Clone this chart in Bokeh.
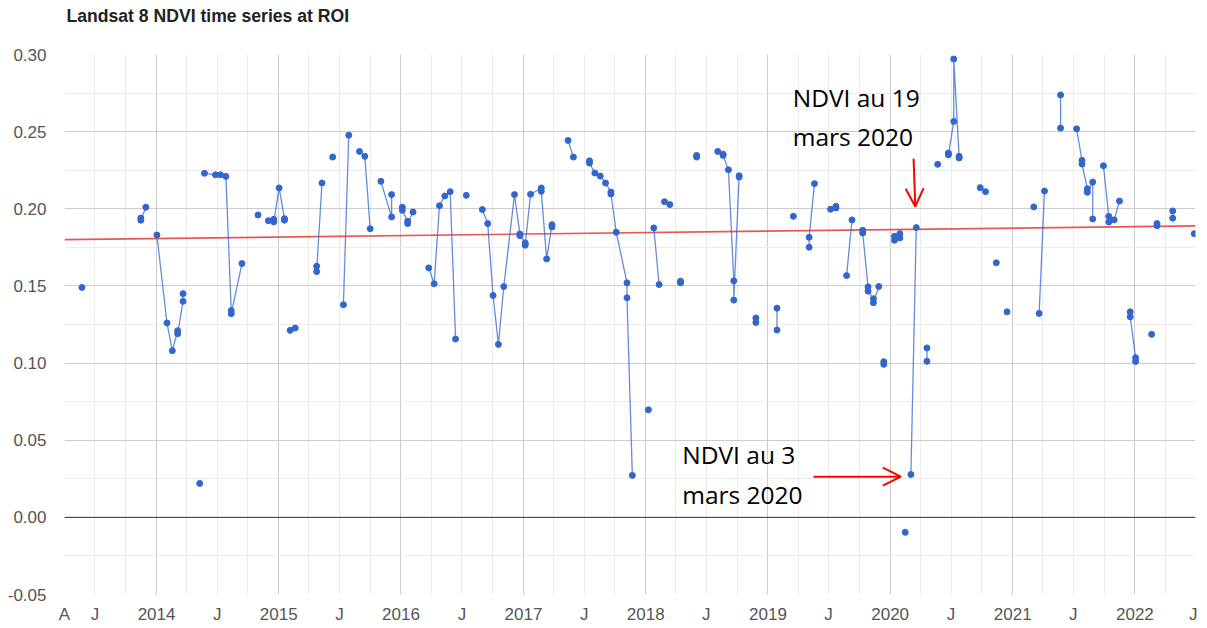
import numpy as np
import pandas as pd
from bokeh.plotting import figure
from bokeh.models import FixedTicker, Span, Label, Arrow, OpenHead, Range1d, Title
from bokeh.embed import file_html
from bokeh.resources import INLINE

# ---------------- data ----------------
dates = [
    "2013-05-23",
    "2013-11-15", "2013-11-15", "2013-11-30",
    "2014-01-02", "2014-02-01", "2014-02-17", "2014-03-05", "2014-03-05", "2014-03-21", "2014-03-21",
    "2014-05-10",
    "2014-05-24", "2014-06-26", "2014-07-11", "2014-07-27", "2014-08-12", "2014-08-12", "2014-09-13",
    "2014-10-31",
    "2014-12-01", "2014-12-17", "2014-12-17", "2015-01-02", "2015-01-18", "2015-01-18",
    "2015-02-04", "2015-02-19",
    "2015-04-24", "2015-04-24", "2015-05-10",
    "2015-06-11",
    "2015-07-13", "2015-07-29",
    "2015-08-30", "2015-09-15", "2015-10-01",
    "2015-11-02", "2015-12-04", "2015-12-04",
    "2016-01-05", "2016-01-05", "2016-01-21", "2016-01-21", "2016-02-06",
    "2016-03-24", "2016-04-09", "2016-04-25", "2016-05-11", "2016-05-27", "2016-06-12",
    "2016-07-14",
    "2016-08-31", "2016-09-16", "2016-10-02", "2016-10-18", "2016-11-03", "2016-12-05",
    "2016-12-21", "2016-12-21", "2017-01-06", "2017-01-06", "2017-01-22", "2017-02-23",
    "2017-02-23", "2017-03-11", "2017-03-27", "2017-03-27",
    "2017-05-14", "2017-05-30",
    "2017-07-17", "2017-07-17", "2017-08-02", "2017-08-18", "2017-09-03", "2017-09-19",
    "2017-09-19", "2017-10-05", "2017-11-06", "2017-11-06", "2017-11-22",
    "2018-01-09",
    "2018-01-25", "2018-02-10",
    "2018-02-26", "2018-03-14",
    "2018-04-15", "2018-04-15",
    "2018-06-02", "2018-06-02",
    "2018-08-04", "2018-08-20", "2018-08-20", "2018-09-05", "2018-09-21", "2018-09-21",
    "2018-10-07", "2018-10-07",
    "2018-11-26", "2018-11-26",
    "2019-01-28", "2019-01-28",
    "2019-03-18",
    "2019-05-04", "2019-05-04", "2019-05-20",
    "2019-07-07", "2019-07-23", "2019-07-23",
    "2019-08-24", "2019-09-09",
    "2019-10-11", "2019-10-11", "2019-10-27", "2019-10-27", "2019-11-12", "2019-11-12", "2019-11-28",
    "2019-12-13", "2019-12-13",
    "2020-01-14", "2020-01-14", "2020-01-30", "2020-01-30",
    "2020-02-15",
    "2020-03-03", "2020-03-19",
    "2020-04-20", "2020-04-20",
    "2020-05-22",
    "2020-06-23", "2020-06-23", "2020-07-09", "2020-07-09", "2020-07-25", "2020-07-25",
    "2020-09-26", "2020-10-12",
    "2020-11-13",
    "2020-12-15",
    "2021-03-05",
    "2021-03-21", "2021-04-06",
    "2021-05-24", "2021-05-24",
    "2021-07-11", "2021-07-27", "2021-07-27", "2021-08-12", "2021-08-12", "2021-08-28", "2021-08-28",
    "2021-09-29", "2021-10-15", "2021-10-15", "2021-10-31", "2021-11-16",
    "2021-12-18", "2021-12-18", "2022-01-03", "2022-01-03",
    "2022-02-20",
    "2022-03-08", "2022-03-08",
    "2022-04-24", "2022-04-24",
    "2022-06-27",
]

ndvi = [
    0.149,
    0.194, 0.1926, 0.201,
    0.183, 0.126, 0.108, 0.121, 0.119, 0.140, 0.145,
    0.022,
    0.223, 0.222, 0.222, 0.221, 0.134, 0.132, 0.1645,
    0.196,
    0.1923, 0.1932, 0.1915, 0.2135, 0.1936, 0.1926,
    0.1212, 0.1227,
    0.1628, 0.1593, 0.2167,
    0.2335,
    0.1378, 0.2477,
    0.2372, 0.234, 0.1871,
    0.2178, 0.1947, 0.2092,
    0.201, 0.199, 0.1919, 0.1904, 0.1979,
    0.1617, 0.1514, 0.202, 0.2083, 0.2111, 0.1156,
    0.2087,
    0.1995, 0.1904, 0.1438, 0.1121, 0.1496, 0.2092,
    0.1837, 0.1826, 0.1779, 0.1764, 0.2094, 0.2135,
    0.2113, 0.1675, 0.1897, 0.1882,
    0.2443, 0.2335,
    0.2311, 0.2296, 0.2232, 0.2212, 0.2167, 0.2109,
    0.2096, 0.1848, 0.152, 0.1423, 0.0272,
    0.0697,
    0.1876, 0.1509,
    0.2046, 0.2027,
    0.1531, 0.152,
    0.2346, 0.2335,
    0.2372, 0.2354, 0.2346, 0.2253, 0.1533, 0.1408,
    0.2214, 0.2206,
    0.1292, 0.1263,
    0.1356, 0.1214,
    0.1951,
    0.1751, 0.1815, 0.2163,
    0.1997, 0.2016, 0.2005,
    0.1567, 0.1928,
    0.1861, 0.1843, 0.1494, 0.1466, 0.1417, 0.1391, 0.1496,
    0.1009, 0.0992,
    0.1822, 0.1796, 0.1839, 0.1811,
    -0.0097,
    0.0278, 0.1878,
    0.1098, 0.1011,
    0.2288,
    0.2361, 0.235, 0.2566, 0.2971, 0.234, 0.2329,
    0.2137, 0.2111,
    0.165,
    0.1332,
    0.2012,
    0.1322, 0.2115,
    0.2738, 0.2523,
    0.2518, 0.2314, 0.229, 0.213, 0.2107, 0.2173, 0.1934,
    0.2279, 0.1951, 0.1914, 0.1928, 0.205,
    0.1332, 0.13, 0.1035, 0.101,
    0.1186,
    0.1904, 0.189,
    0.1986, 0.1939,
    0.1839,
]

# connected runs of the series line (points of one run are joined)
segment = (
    [1] + [2] * 3 + [3] * 7 + [4] + [5] * 7 + [6] + [7] * 6 + [8] * 2 + [9] * 3 + [10]
    + [11] * 2 + [12] * 3 + [13] * 3 + [14] * 5 + [15] * 6 + [16] + [17] * 16 + [18] * 2
    + [19] * 11 + [20] + [21] * 2 + [22] * 2 + [23] * 2 + [24] * 2 + [25] * 8 + [26] * 2
    + [27] * 2 + [28] + [29] * 3 + [30] * 3 + [31] * 2 + [32] * 7 + [33] * 2 + [34] * 4
    + [35] + [36] * 2 + [37] * 2 + [38] + [39] * 6 + [40] * 2 + [41] + [42] + [43]
    + [44] * 2 + [45] * 2 + [46] * 7 + [47] * 5 + [48] * 4 + [49] + [50] * 2 + [51] * 2 + [52]
)

trend_dates = ["2013-04-01", "2022-07-01"]
trend_ndvi = [0.1800, 0.1889]

x_tick_dates = ["2013-04-01", "2013-07-01"] + [
    d for y in range(2014, 2023) for d in (f"{y}-01-01", f"{y}-07-01")
]
x_tick_labels = ["A", "J"] + [
    t for y in range(2014, 2023) for t in (str(y), "J")
]
y_ticks = [-0.05, 0.0, 0.05, 0.10, 0.15, 0.20, 0.25, 0.30]
y_tick_labels = ["-0.05", "0.00", "0.05", "0.10", "0.15", "0.20", "0.25", "0.30"]

title_text = "Landsat 8 NDVI time series at ROI"
note_19 = ["NDVI au 19", "mars 2020"]
note_3 = ["NDVI  au  3", "mars 2020"]


def ms(d):
    return int(pd.Timestamp(d).value // 10**6)


x = [ms(d) for d in dates]
x_start, x_end = ms("2013-04-01"), ms("2022-07-01")
y_min, y_max = -0.05, 0.30

# ---------------- figure ----------------
p = figure(
    frame_width=1131, frame_height=540,
    x_axis_type="datetime",
    x_range=Range1d(x_start, x_end), y_range=Range1d(y_min, y_max),
    output_backend="svg", toolbar_location=None,
    min_border_left=64, min_border_right=2, min_border_top=54, min_border_bottom=29,
)
p.outline_line_color = None
p.background_fill_color = "white"
p.border_fill_color = "white"

# gap between the frame and the title (an invisible spacer title), then the title
p.add_layout(Title(text=" ", text_font_size="1px", standoff=22), "above")
p.add_layout(Title(text=title_text, text_font="Liberation Sans", text_font_size="17.6px",
                   text_font_style="bold", text_color="#222222", align="left",
                   standoff=7, offset=2), "above")

# grids
year_lines = [ms(f"{y}-01-01") for y in range(2014, 2023)]
quarter_lines = [ms(f"{y}-{m:02d}-01") for y in range(2013, 2023) for m in (4, 7, 10)
                 if ms(f"{y}-{m:02d}-01") <= x_end]
p.xgrid.ticker = FixedTicker(ticks=year_lines, minor_ticks=quarter_lines)
p.xgrid.grid_line_color = "#cccccc"
p.xgrid.minor_grid_line_color = "#ebebeb"
p.ygrid.ticker = FixedTicker(ticks=y_ticks,
                             minor_ticks=[round(t + 0.025, 3) for t in y_ticks[:-1]])
p.ygrid.grid_line_color = "#cccccc"
p.ygrid.minor_grid_line_color = "#ebebeb"

# axes
for ax in (p.xaxis[0], p.yaxis[0]):
    ax.axis_line_color = None
    ax.major_tick_line_color = None
    ax.minor_tick_line_color = None
    ax.major_tick_out = 0
    ax.major_tick_in = 0
    ax.minor_tick_out = 0
    ax.major_label_text_font = "Liberation Sans"
    ax.major_label_text_font_size = "17px"
    ax.major_label_text_color = "#555555"

p.xaxis.ticker = FixedTicker(ticks=[ms(d) for d in x_tick_dates])
p.xaxis.major_label_overrides = {ms(d): t for d, t in zip(x_tick_dates, x_tick_labels)}
p.xaxis.major_label_standoff = 10
p.yaxis.ticker = FixedTicker(ticks=y_ticks)
p.yaxis.major_label_overrides = {t: s for t, s in zip(y_ticks, y_tick_labels)}
p.yaxis.major_label_standoff = 18

# zero baseline
p.add_layout(Span(location=0, dimension="width", line_color="#333333", line_width=1))

# trend line
p.line([ms(d) for d in trend_dates], trend_ndvi, line_color="#e53935",
       line_width=1.7, line_alpha=0.85)

# series
df = pd.DataFrame({"x": x, "y": ndvi, "seg": segment})
xs, ys = [], []
for _, g in df.groupby("seg", sort=False):
    xs.append(g["x"].tolist())
    ys.append(g["y"].tolist())
p.multi_line(xs, ys, line_color="#3366cc", line_width=1.3, line_alpha=0.75)
p.scatter(df["x"], df["y"], size=6, color="#3366cc")

# annotations
red = "#ff0000"
i19 = dates.index("2020-03-19")
i3 = dates.index("2020-03-03")
day = 86400000

p.add_layout(Arrow(end=OpenHead(size=18, line_color=red, line_width=2),
                   x_start=x[i19] - 8 * day, y_start=ndvi[i19] + 0.0446,
                   x_end=x[i19] - 3 * day, y_end=ndvi[i19] + 0.0137,
                   line_color=red, line_width=2))
p.add_layout(Arrow(end=OpenHead(size=18, line_color=red, line_width=2),
                   x_start=ms("2019-05-17"), y_start=ndvi[i3] - 0.0014,
                   x_end=x[i3] - 30 * day, y_end=ndvi[i3] - 0.0014,
                   line_color=red, line_width=2))

note_font = dict(text_font="Open Sans", text_font_size="24.5px",
                 text_color="#000000", text_align="left", text_baseline="alphabetic")
p.add_layout(Label(x=ms("2019-03-16"), y=0.2723, text=note_19[0], **note_font))
p.add_layout(Label(x=ms("2019-03-16"), y=0.2470, text=note_19[1], **note_font))
p.add_layout(Label(x=ms("2018-04-20"), y=0.0408, text=note_3[0], **note_font))
p.add_layout(Label(x=ms("2018-04-20"), y=0.0149, text=note_3[1], **note_font))

open("out.html", "w").write(file_html(p, INLINE))
